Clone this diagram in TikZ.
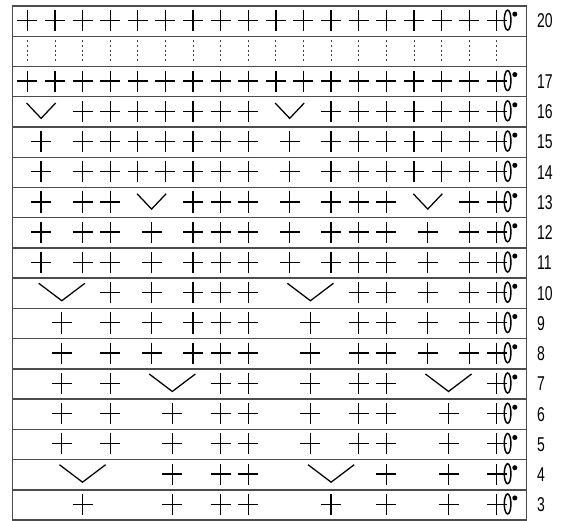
\documentclass[tikz,border=0pt]{standalone}
\usepackage{fontspec}
\newfontfamily\condfont[FakeStretch=0.7]{Liberation Sans}

\begin{document}
\begin{tikzpicture}[
  x=20.715pt, y=-22.68pt,
  grid/.style={draw=black!70, line width=1pt},
  stitch/.style={line width=0.95pt},
  guide/.style={draw=black!75, line width=0.6pt, dash pattern=on 1.5pt off 1.9pt},
  rownum/.style={anchor=west, inner sep=0pt, font=\condfont\fontsize{15}{16}\selectfont},
  sc/.pic={\draw[stitch] (-7.5pt,0.5pt) -- (7.5pt,0.5pt) (0,-7.5pt) -- (0,8.3pt);},
  inc/.pic={\draw[stitch] (-10.9pt,6.6pt) -- (0,-4.9pt) -- (10.9pt,6.6pt);},
  wideinc/.pic={\draw[stitch] (-17.3pt,7.5pt) -- (0,-5.6pt) -- (17.3pt,7.5pt);},
  ch/.pic={\draw[stitch, line width=1.1pt] (0,0.75pt) ellipse[x radius=2.5pt, y radius=7.5pt];
           \fill (5.4pt,5.25pt) circle[radius=1.9pt];}]

  \useasboundingbox (-0.988,-0.698) rectangle (19.323,16.53);

  % frame and row lines
  \draw[grid] (-0.529,-0.5) rectangle (18.08,16.5);
  \foreach \i in {0.5,1.5,...,15.5}
    \draw[grid] (-0.529,\i) -- (18.08,\i);

  % rows 20 and 17
  \foreach \r in {0,2}
    \foreach \k in {0,...,17}
      \pic at (\k,\r) {sc};
  \foreach \k in {0,...,17}
    \draw[guide] (\k,0.64) -- (\k,1.36);

  % row 16
  \pic at (0.5,3) {inc};
  \pic at (9.5,3) {inc};
  \foreach \k in {2,3,4,5,6,7,8,11,12,13,14,15,16,17}
    \pic at (\k,3) {sc};

  % rows 15, 14
  \foreach \r in {4,5}
    \foreach \k in {0.5,2,3,4,5,6,7,8,9.5,11,12,13,14,15,16,17}
      \pic at (\k,\r) {sc};

  % row 13
  \pic at (4.5,6) {inc};
  \pic at (14.5,6) {inc};
  \foreach \k in {0.5,2,3,6,7,8,9.5,11,12,13,16,17}
    \pic at (\k,6) {sc};

  % rows 12, 11
  \foreach \r in {7,8}
    \foreach \k in {0.5,2,3,4.5,6,7,8,9.5,11,12,13,14.5,16,17}
      \pic at (\k,\r) {sc};

  % row 10
  \pic at (1.25,9) {wideinc};
  \pic at (10.25,9) {wideinc};
  \foreach \k in {3,4.5,6,7,8,12,13,14.5,16,17}
    \pic at (\k,9) {sc};

  % rows 9, 8
  \foreach \r in {10,11}
    \foreach \k in {1.25,3,4.5,6,7,8,10.25,12,13,14.5,16,17}
      \pic at (\k,\r) {sc};

  % row 7
  \pic at (5.25,12) {wideinc};
  \pic at (15.25,12) {wideinc};
  \foreach \k in {1.25,3,7,8,10.25,12,13,17}
    \pic at (\k,12) {sc};

  % rows 6, 5
  \foreach \r in {13,14}
    \foreach \k in {1.25,3,5.25,7,8,10.25,12,13,15.25,17}
      \pic at (\k,\r) {sc};

  % row 4
  \pic at (2,15) {wideinc};
  \pic at (11,15) {wideinc};
  \foreach \k in {5.25,7,8,13,15.25,17}
    \pic at (\k,15) {sc};

  % row 3
  \foreach \k in {2,5.25,7,8,11,13,15.25,17}
    \pic at (\k,16) {sc};

  % chain + slip stitch at row ends
  \foreach \r in {0,2,3,...,16}
    \pic at (17.39,\r) {ch};

  % row numbers
  \foreach \r/\n in {0/20,2/17,3/16,4/15,5/14,6/13,7/12,8/11,9/10,
                     10/9,11/8,12/7,13/6,14/5,15/4,16/3}
    \node[rownum] (row\n) at (18.45,\r) {\n};

\end{tikzpicture}
\end{document}
